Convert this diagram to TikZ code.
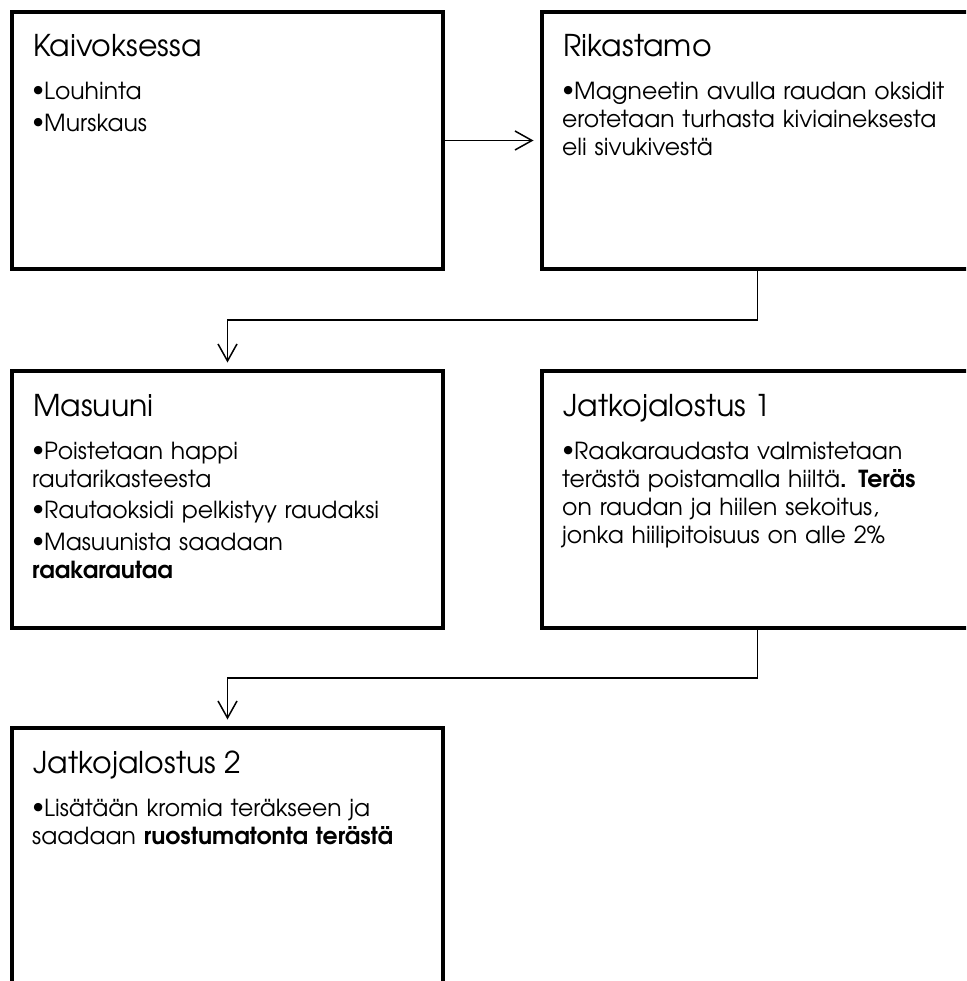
\documentclass[tikz,border=0pt]{standalone}
\usepackage{fontspec}
\setmainfont{TeX Gyre Adventor}
\usetikzlibrary{arrows.meta}
\newcommand\bitem[1]{\hangindent=12pt\hangafter=1\noindent\makebox[12pt][l]{\raisebox{3pt}{•}}#1\par}
\tikzset{
  box/.style={draw, line width=4pt, minimum width=431pt, minimum height=257pt, inner sep=0pt, outer sep=0pt},
  ttl/.style={anchor=base west, inner sep=0pt, font=\fontsize{30}{34}\selectfont},
  body/.style={anchor=base west, inner sep=0pt, text width=440pt, align=left, font=\fontsize{23.5}{28}\selectfont\setlength\parskip{3.5pt}\setlength\parindent{0pt}},
  conn/.style={line width=1.5pt, -{Straight Barb[length=17pt,width=19pt]}, shorten >=8.5pt}
}
\begin{document}
\begin{tikzpicture}[x=1pt,y=-1pt]
\clip (0,0) rectangle (966,981);
\fill[white] (0,0) rectangle (966,981);
\node[box] (b1) at (227.5,140.5) {};
\node[box] (b2) at (757.5,140.5) {};
\node[box] (b3) at (227.5,499.5) {};
\node[box] (b4) at (757.5,499.5) {};
\node[box] (b5) at (227.5,856.5) {};
\node[ttl] (t1) at ([xshift=21pt,yshift=-45pt]b1.north west) {Kaivoksessa};
\node[ttl] (t2) at ([xshift=21pt,yshift=-45pt]b2.north west) {Rikastamo};
\node[ttl] (t3) at ([xshift=21pt,yshift=-45pt]b3.north west) {Masuuni};
\node[ttl] (t4) at ([xshift=21pt,yshift=-45pt]b4.north west) {Jatkojalostus 1};
\node[ttl] (t5) at ([xshift=21pt,yshift=-45pt]b5.north west) {Jatkojalostus 2};
\node[body] (x1) at ([xshift=20pt,yshift=-88pt]b1.north west) {\bitem{Louhinta}\bitem{Murskaus}};
\node[body] (x2) at ([xshift=20pt,yshift=-88pt]b2.north west) {\bitem{Magneetin avulla raudan oksidit\\erotetaan turhasta kiviaineksesta\\eli sivukivestä}};
\node[body] (x3) at ([xshift=20pt,yshift=-88pt]b3.north west) {\bitem{Poistetaan happi\\rautarikasteesta}\bitem{Rautaoksidi pelkistyy raudaksi}\bitem{Masuunista saadaan\\\textbf{raakarautaa}}};
\node[body] (x4) at ([xshift=20pt,yshift=-88pt]b4.north west) {\bitem{Raakaraudasta valmistetaan\\terästä poistamalla hiiltä\textbf{. Teräs}\\on raudan ja hiilen sekoitus,\\jonka hiilipitoisuus on alle 2\%}};
\node[body] (x5) at ([xshift=20pt,yshift=-88pt]b5.north west) {\bitem{Lisätään kromia teräkseen ja\\saadaan \textbf{ruostumatonta terästä}}};
\draw[conn] (b1.east) -- (b2.west);
\draw[conn] (b2.south) -- ++(0,51) -| (b3.north);
\draw[conn] (b4.south) -- ++(0,50) -| (b5.north);
\end{tikzpicture}
\end{document}
